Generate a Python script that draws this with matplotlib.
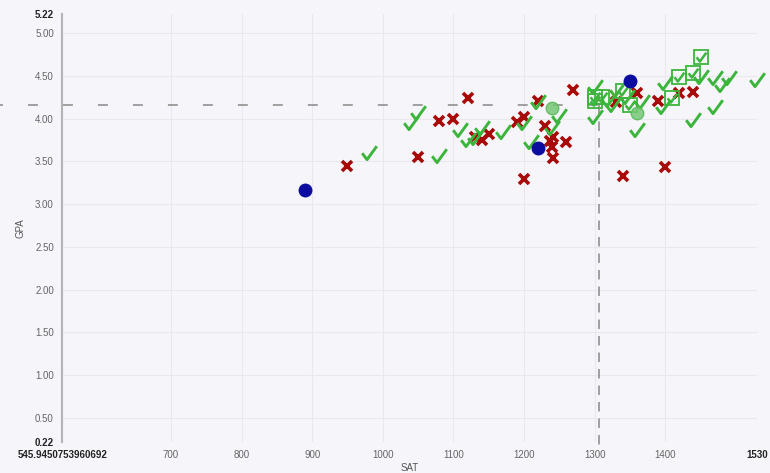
import matplotlib
matplotlib.use("Agg")
import matplotlib.pyplot as plt
from matplotlib.path import Path

plt.rcParams['font.family'] = ['Liberation Sans', 'DejaVu Sans']

# rejected applicants (red x)
sat_rejected = [950, 1050, 1080, 1100, 1120, 1130, 1140, 1150, 1190, 1200, 1220, 1230,
                1237, 1241, 1240, 1241, 1260, 1270, 1200, 1330, 1360, 1390, 1420, 1440,
                1340, 1400]
gpa_rejected = [3.45, 3.55, 3.97, 4.00, 4.24, 3.79, 3.75, 3.82, 3.96, 4.02, 4.21, 3.91,
                3.74, 3.79, 3.67, 3.54, 3.73, 4.34, 3.29, 4.19, 4.30, 4.21, 4.30, 4.31,
                3.33, 3.43]

# accepted applicants (green check)
sat_accepted = [980, 1040, 1050, 1080, 1110, 1120, 1130, 1140, 1170, 1200, 1210, 1220,
                1240, 1250, 1300, 1300, 1320, 1326, 1332, 1346, 1367, 1360, 1400, 1397,
                1440, 1450, 1470, 1480, 1490, 1470, 1530]
gpa_accepted = [3.60, 3.95, 4.07, 3.56, 3.87, 3.75, 3.78, 3.89, 3.84, 3.95, 3.73, 4.19,
                3.89, 4.03, 4.37, 4.02, 4.22, 4.16, 4.34, 4.25, 4.19, 3.87, 4.42, 4.14,
                3.98, 4.49, 4.48, 4.39, 4.48, 4.14, 4.45]

# enrolled (green check in a box)
sat_enrolled = [1300, 1300, 1310, 1340, 1350, 1410, 1420, 1440, 1450]
gpa_enrolled = [4.26, 4.21, 4.26, 4.32, 4.16, 4.24, 4.49, 4.53, 4.72]

# blue circles
sat_blue = [890, 1220, 1350]
gpa_blue = [3.17, 3.66, 4.44]

# light green circles
sat_light = [1240, 1360]
gpa_light = [4.13, 4.07]

avg_sat = 1306
avg_gpa = 4.16

x_min, x_max = 545.9450753960692, 1530
y_min, y_max = 0.22, 5.22
x_ticks = [x_min, 700, 800, 900, 1000, 1100, 1200, 1300, 1400, x_max]
x_labels = ['545.9450753960692', '700', '800', '900', '1000', '1100', '1200', '1300', '1400', '1530']
y_ticks = [y_min, 0.5, 1.0, 1.5, 2.0, 2.5, 3.0, 3.5, 4.0, 4.5, 5.0, y_max]
y_labels = ['%.2f' % v for v in y_ticks]

bg = '#f5f5fa'
red = '#a80a0a'
green = '#3cb53c'

fig = plt.figure(figsize=(7.7, 4.73), dpi=100, facecolor=bg)
ax = fig.add_axes([62.2 / 770, 1 - 441.6 / 473, (757 - 62.2) / 770, (441.6 - 14.5) / 473])
ax.set_facecolor(bg)
ax.set_xlim(x_min, x_max)
ax.set_ylim(y_min, y_max)

for s in ['top', 'right', 'bottom']:
    ax.spines[s].set_visible(False)
ax.spines['left'].set_color('#b4b4b4')
ax.spines['left'].set_linewidth(1.5)

ax.set_xticks(x_ticks)
ax.set_xticklabels(x_labels)
ax.set_yticks(y_ticks)
ax.set_yticklabels(y_labels)
ax.tick_params(length=0, labelsize=7, labelcolor='#666666')
ax.tick_params(axis='x', pad=6)
ax.tick_params(axis='y', pad=6)
for lab in [ax.get_xticklabels()[0], ax.get_xticklabels()[-1],
            ax.get_yticklabels()[0], ax.get_yticklabels()[-1]]:
    lab.set_color('#222222')
    lab.set_fontweight('bold')

# grid, skipping the bounds
for v in x_ticks[1:-1]:
    ax.axvline(v, color='#e8e8ee', lw=0.8, zorder=0)
for v in y_ticks[1:-1]:
    ax.axhline(v, color='#e8e8ee', lw=0.8, zorder=0)

ax.set_xlabel('SAT', fontsize=7, color='#555555', labelpad=2)
ax.set_ylabel('GPA', fontsize=7, color='#555555', labelpad=7)

# average lines
ax.plot([458, avg_sat], [avg_gpa, avg_gpa], color='#888888', lw=1.1,
        linestyle=(4.6, (6.5, 16.4)), clip_on=False, zorder=1)
ax.plot([avg_sat, avg_sat], [avg_gpa, 0.11], color='#888888', lw=1.1,
        linestyle=(0, (6.2, 4.6)), clip_on=False, zorder=1)

check = Path([(-0.5, 0.02), (-0.17, -0.42), (0.5, 0.5)],
             [Path.MOVETO, Path.LINETO, Path.LINETO])

ax.plot(sat_rejected, gpa_rejected, linestyle='none', marker='x', ms=7, mew=2.6,
        color=red, zorder=3, clip_on=False)
ax.plot(sat_accepted, gpa_accepted, linestyle='none', marker=check, ms=10.5, mew=2.1,
        mfc='none', mec=green, zorder=4, clip_on=False)
ax.plot(sat_enrolled, gpa_enrolled, linestyle='none', marker='s', ms=9.5, mew=1.3,
        mfc='none', mec=green, zorder=4, clip_on=False)
ax.plot(sat_enrolled, gpa_enrolled, linestyle='none', marker=check, ms=7, mew=1.8,
        mfc='none', mec=green, zorder=4, clip_on=False)
ax.plot(sat_blue, gpa_blue, linestyle='none', marker='o', ms=9, color='#0c0ca0',
        zorder=5, clip_on=False)
ax.plot(sat_light, gpa_light, linestyle='none', marker='o', ms=9, mfc='#74c874',
        mec='#5ab85a', alpha=0.85, zorder=5, clip_on=False)

fig.savefig('out.png', dpi=100, facecolor=bg)
